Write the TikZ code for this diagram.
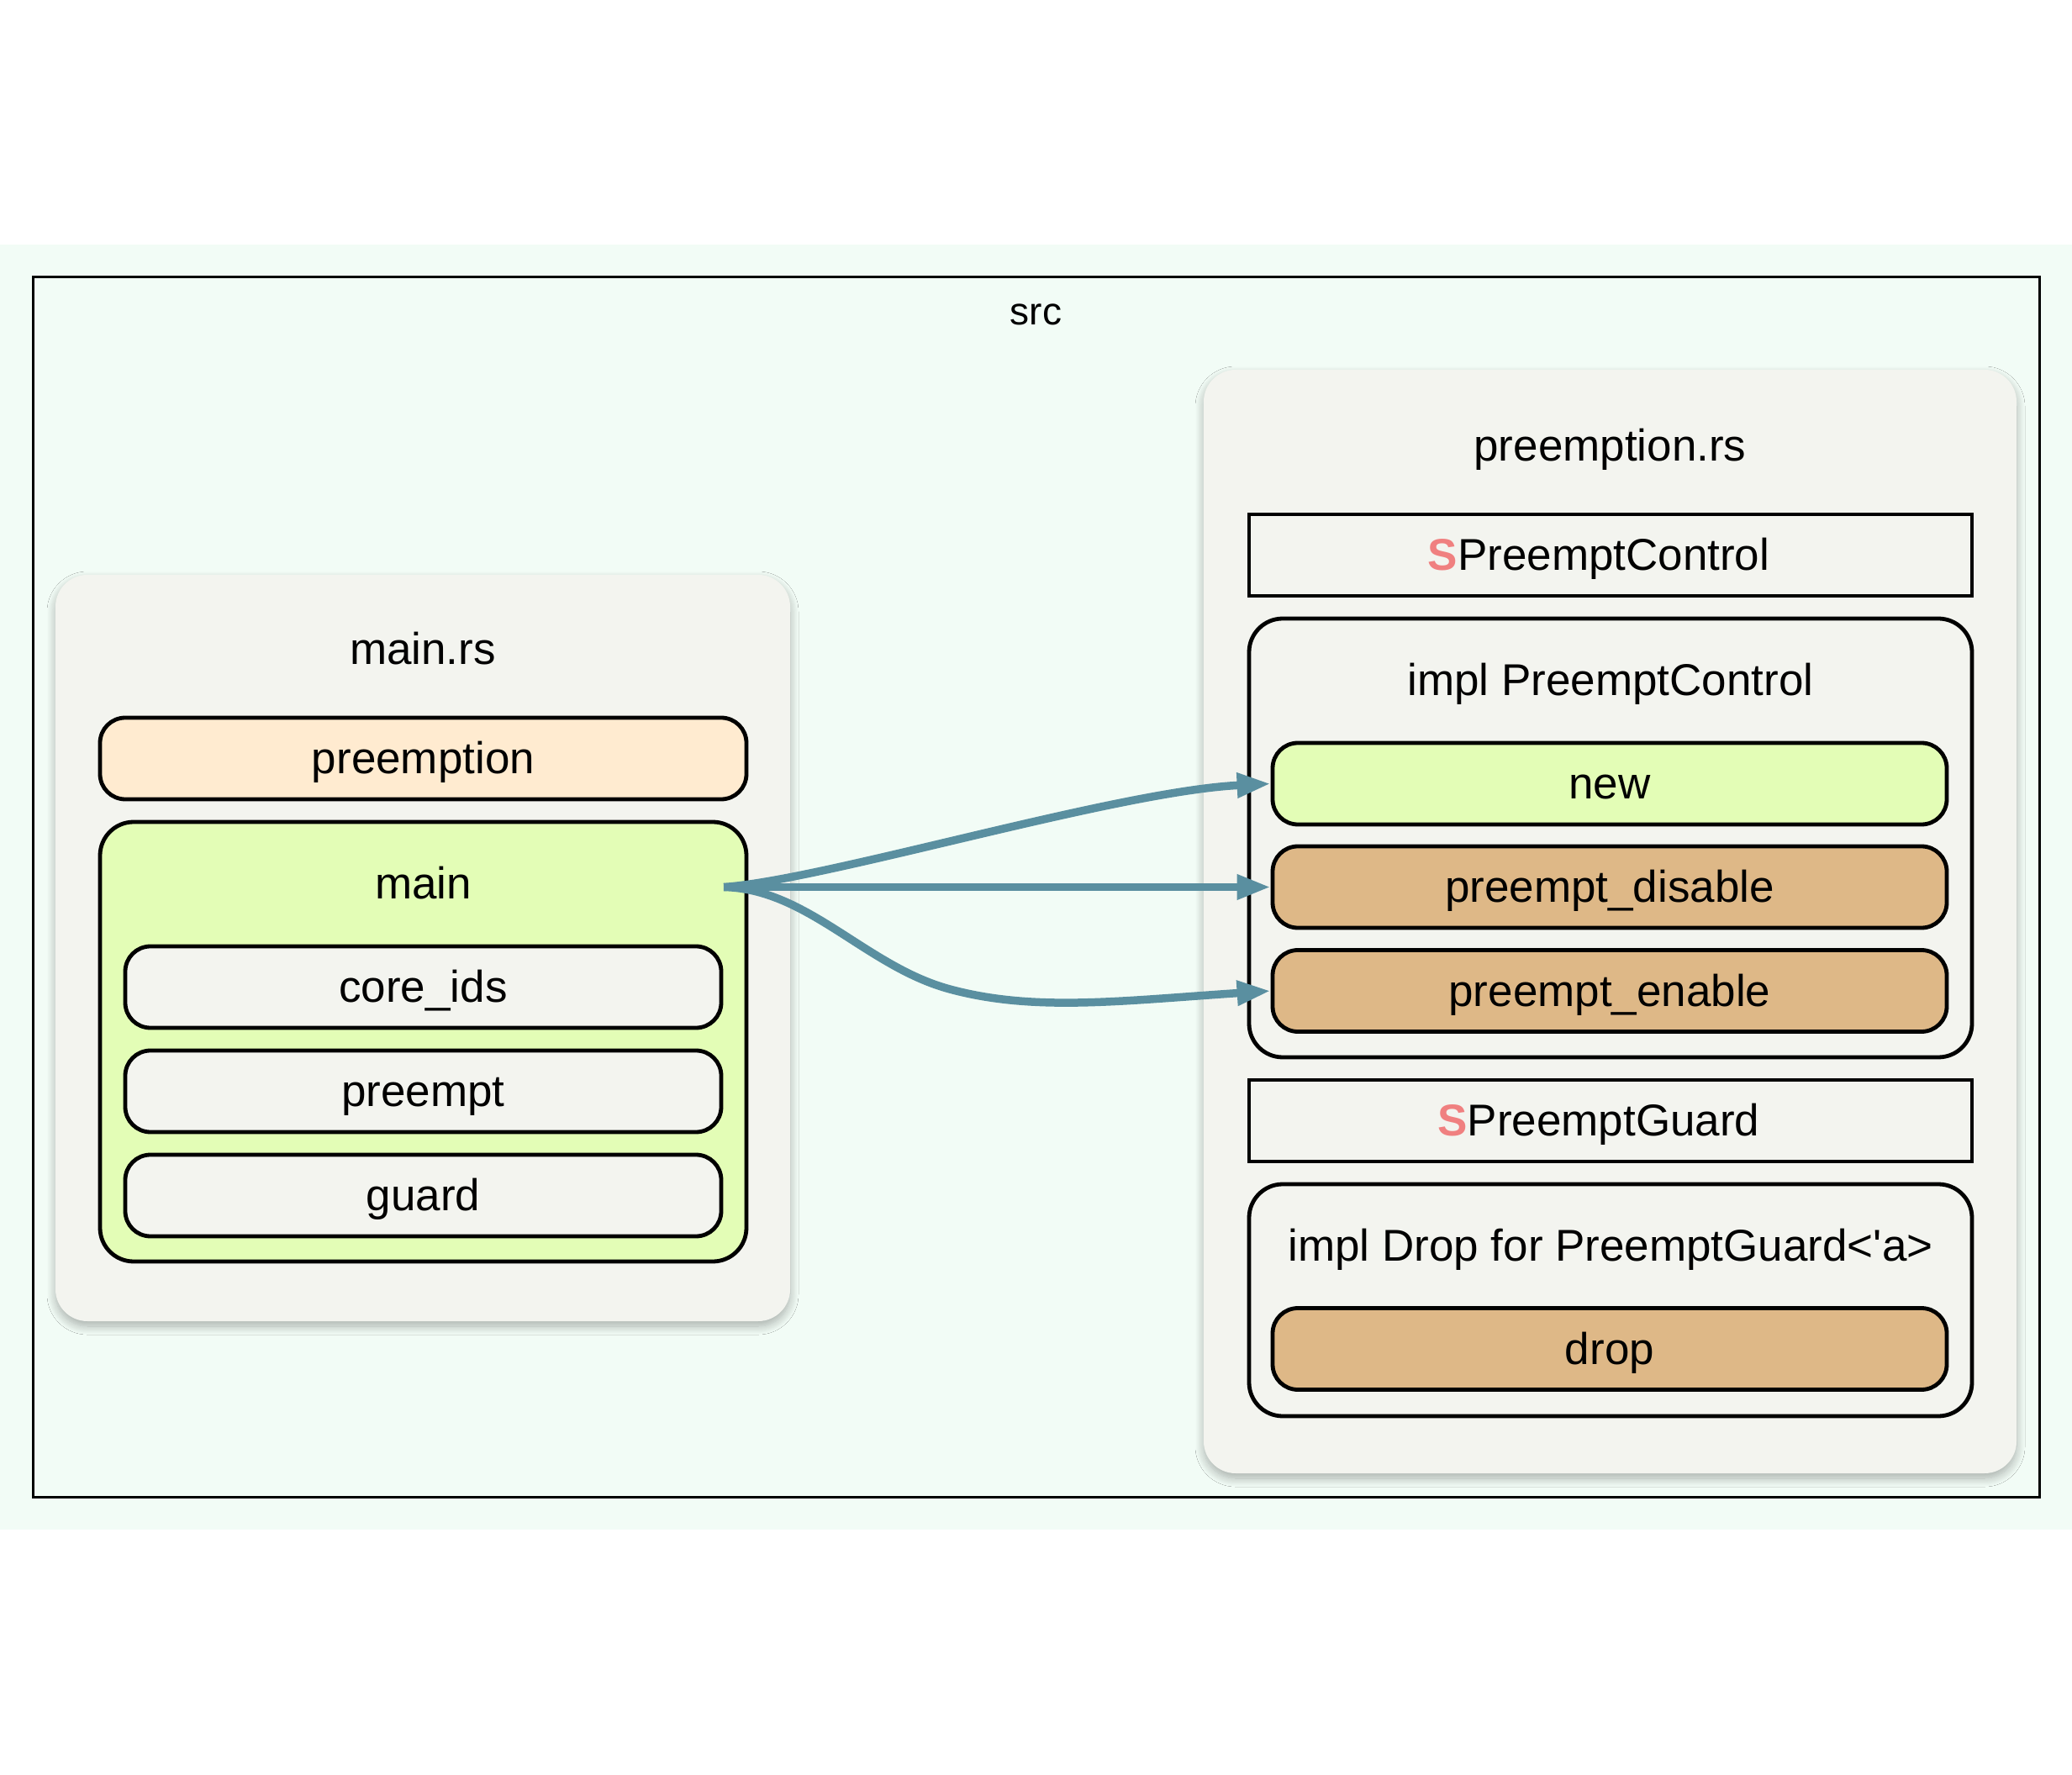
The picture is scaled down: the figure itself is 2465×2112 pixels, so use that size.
\documentclass[tikz,border=0pt]{standalone}
\usepackage{fontspec}
\setmainfont{Liberation Sans}
\usetikzlibrary{arrows.meta,shadows.blur,calc}

\definecolor{pagebg}{HTML}{F2FCF6}
\definecolor{clusterfill}{HTML}{F3F4EF}
\definecolor{peach}{HTML}{FFEBD0}
\definecolor{limefill}{HTML}{E3FDB6}
\definecolor{tanfill}{HTML}{DEB887}
\definecolor{edgeblue}{HTML}{5A8FA0}
\definecolor{structmark}{HTML}{F08080}

\begin{document}
\begin{tikzpicture}[x=0.5pt,y=-0.5pt,
  txt/.style={font=\fontsize{26.5}{30}\selectfont, text height=23pt, text depth=5pt, inner sep=0pt},
  srctxt/.style={font=\fontsize{23}{26}\selectfont, text height=20.5pt, text depth=4.5pt, inner sep=0pt},
  filebox/.style={fill=clusterfill, rounded corners=19pt, inner sep=0pt,
    blur shadow={shadow xshift=0pt, shadow yshift=-3pt, shadow blur radius=5pt,
                 shadow blur steps=12, shadow opacity=30}},
  groupbox/.style={draw, line width=2.4pt, rounded corners=20pt, inner sep=0pt},
  structbox/.style={draw, line width=2.4pt, fill=clusterfill, inner sep=0pt,
    minimum width=430pt, minimum height=48.5pt, txt},
  leaf/.style={draw, line width=2.4pt, rounded corners=15pt, inner sep=0pt,
    minimum height=48.5pt, txt},
  edge/.style={draw=edgeblue, line width=4.75pt,
    -{Triangle[length=20pt,width=14pt]}},
  ]

% page and background band
\useasboundingbox (0,0) rectangle (2465,2112);
\fill[white] (0,0) rectangle (2465,2112);
\fill[pagebg] (0,291) rectangle (2465,1820);

% src frame
\node[draw, line width=1.5pt, inner sep=0pt, minimum width=1193.5pt, minimum height=725.5pt]
  (srcframe) at (1232.5,1055.5) {};
\node[srctxt] (srclbl) at (1232.5,371) {src};

% ---------- main.rs ----------
\node[filebox, minimum width=437pt, minimum height=444pt] (mainrs) at (503,1128) {};
\node[txt] (mainrslbl) at (503,773) {main.rs};

\node[leaf, fill=peach, minimum width=384.5pt] (preemption) at (503.5,902.5) {preemption};

\node[groupbox, fill=limefill, minimum width=384.5pt, minimum height=261.5pt] (mainfn) at (503.5,1239.5) {};
\node[txt] (mainlbl) at (503.5,1052) {main};

\node[leaf, fill=clusterfill, minimum width=354.5pt] (coreids) at (503.5,1174.5) {core\_ids};
\node[leaf, fill=clusterfill, minimum width=354.5pt] (preempt) at (503.5,1298.5) {preempt};
\node[leaf, fill=clusterfill, minimum width=354.5pt] (guard) at (503.5,1422.5) {guard};

% ---------- preemption.rs ----------
\node[filebox, minimum width=483.5pt, minimum height=656.5pt] (preemptrs) at (1915.5,1096.5) {};
\node[txt] (preemptrslbl) at (1915.5,531) {preemption.rs};

\node[structbox] (pcontrol) at (1916,660.5)
  {{\bfseries\color{structmark}S}PreemptControl\kern14pt};

\node[groupbox, fill=clusterfill, minimum width=430pt, minimum height=261pt] (implpc) at (1916,997) {};
\node[txt] (implpclbl) at (1916,810) {impl PreemptControl};

\node[leaf, fill=limefill, minimum width=401pt] (new) at (1915,932.5) {new};
\node[leaf, fill=tanfill, minimum width=401pt] (disable) at (1915,1055.5) {preempt\_disable};
\node[leaf, fill=tanfill, minimum width=401pt] (enable) at (1915,1179) {preempt\_enable};

\node[structbox] (pguard) at (1916,1333.5)
  {{\bfseries\color{structmark}S}PreemptGuard\kern14pt};

\node[groupbox, fill=clusterfill, minimum width=430pt, minimum height=138pt] (impldrop) at (1916,1547) {};
\node[txt] (impldroplbl) at (1916,1482) {impl Drop for PreemptGuard<\textquotesingle a>};

\node[leaf, fill=tanfill, minimum width=401pt] (drop) at (1915,1605) {drop};

% ---------- calls ----------
\coordinate (mainport) at (861,1055.5);
\coordinate (lowbend) at (1130,1177);

\draw[edge] (mainport) .. controls ($(mainport)+(119,-8)$) and ($(new.west)+(-184,9)$) .. (new.west);
\draw[edge] (mainport) -- (disable.west);
\draw[edge] (mainport) .. controls ($(mainport)+(100,2)$) and (1030,1150) .. (lowbend)
  .. controls (1230,1204) and ($(enable.west)+(-180,12)$) .. (enable.west);

\end{tikzpicture}
\end{document}
